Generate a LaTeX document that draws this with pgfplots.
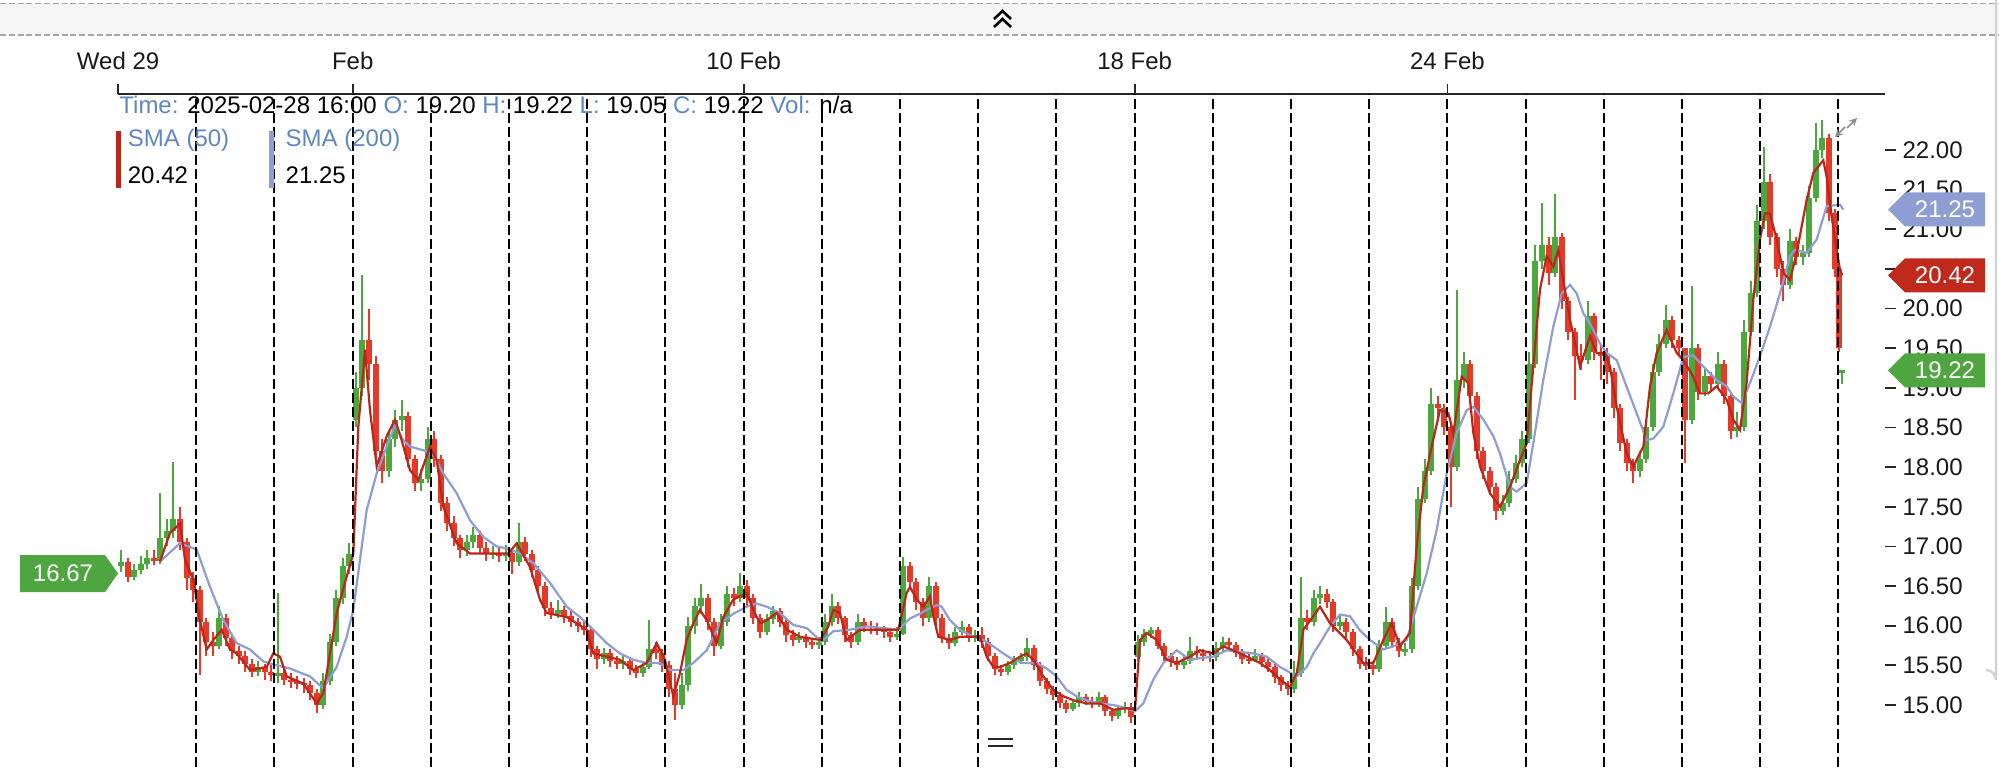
\documentclass[border=0pt]{standalone}
\usepackage{fontspec}
\setmainfont{Liberation Sans}
\usepackage{pgfplots}
\usepackage{pgfplotstable}
\pgfplotsset{compat=1.18}
\definecolor{cred}{HTML}{E5392A}
\definecolor{cgreen}{HTML}{4CA83C}
\definecolor{smared}{HTML}{BA2619}
\definecolor{smablue}{HTML}{8E9DD4}
\definecolor{lblue}{HTML}{5F87C0}
\definecolor{flaggreen}{HTML}{4FA540}
\definecolor{flagred}{HTML}{BF2A1C}
\definecolor{flagblue}{HTML}{8E9DD2}

\pgfplotstableread{
x o h l c
0.042 16.75 16.95 16.68 16.80
0.125 16.80 16.85 16.55 16.62
0.208 16.62 16.78 16.58 16.70
0.292 16.70 16.88 16.65 16.78
0.375 16.78 16.95 16.72 16.85
0.458 16.85 16.95 16.76 16.82
0.542 16.82 17.67 16.78 17.10
0.625 17.10 17.35 17.00 17.20
0.708 17.20 18.07 17.10 17.35
0.792 17.35 17.50 16.95 17.05
0.875 17.05 17.10 16.45 16.60
0.958 16.60 16.68 16.30 16.45
1.042 16.45 16.50 15.38 16.05
1.125 16.05 16.10 15.62 15.80
1.208 15.80 15.92 15.62 15.75
1.292 15.75 16.25 15.70 16.10
1.375 16.10 16.15 15.75 15.85
1.458 15.85 15.90 15.58 15.68
1.542 15.68 15.75 15.52 15.62
1.625 15.62 15.68 15.42 15.52
1.708 15.52 15.58 15.35 15.42
1.792 15.42 15.56 15.36 15.48
1.875 15.48 15.52 15.32 15.42
1.958 15.42 15.50 15.30 15.38
2.042 15.38 16.41 15.28 15.40
2.125 15.40 15.48 15.25 15.32
2.208 15.32 15.40 15.22 15.30
2.292 15.30 15.36 15.20 15.28
2.375 15.28 15.34 15.15 15.25
2.458 15.25 15.30 15.06 15.15
2.542 15.15 15.20 14.90 15.00
2.625 15.00 15.40 14.95 15.30
2.708 15.30 15.90 15.25 15.80
2.792 15.80 16.45 15.75 16.35
2.875 16.35 16.85 16.28 16.75
2.958 16.75 17.04 16.65 16.90
3.042 18.60 19.20 18.50 19.00
3.125 19.00 20.42 18.90 19.60
3.208 19.60 20.00 19.10 19.30
3.292 19.30 19.40 18.10 18.20
3.375 18.20 18.35 17.80 17.95
3.458 17.95 18.45 17.88 18.35
3.542 18.35 18.72 18.25 18.60
3.625 18.60 18.85 18.45 18.65
3.708 18.65 18.70 18.00 18.10
3.792 18.10 18.15 17.70 17.80
3.875 17.80 17.98 17.70 17.85
3.958 17.85 18.50 17.80 18.35
4.042 18.35 18.45 18.00 18.10
4.125 18.10 18.15 17.45 17.55
4.208 17.55 17.62 17.20 17.30
4.292 17.30 17.38 17.00 17.10
4.375 17.10 17.15 16.85 16.95
4.458 16.95 17.15 16.88 17.05
4.542 17.05 17.25 16.98 17.15
4.625 17.15 17.20 16.90 16.98
4.708 16.98 17.05 16.82 16.90
4.792 16.90 17.00 16.84 16.92
4.875 16.92 16.98 16.80 16.88
4.958 16.88 17.02 16.82 16.92
5.042 16.92 16.98 16.65 16.80
5.125 16.80 17.29 16.75 17.05
5.208 17.05 17.12 16.82 16.90
5.292 16.90 16.95 16.62 16.70
5.375 16.70 16.75 16.42 16.50
5.458 16.50 16.55 16.12 16.22
5.542 16.22 16.30 16.08 16.15
5.625 16.15 16.32 16.10 16.20
5.708 16.20 16.25 16.04 16.12
5.792 16.12 16.18 15.98 16.05
5.875 16.05 16.10 15.92 16.00
5.958 16.00 16.05 15.88 15.95
6.042 15.95 15.98 15.60 15.70
6.125 15.70 15.75 15.45 15.58
6.208 15.58 15.72 15.52 15.65
6.292 15.65 15.70 15.48 15.55
6.375 15.55 15.62 15.45 15.52
6.458 15.52 15.62 15.46 15.55
6.542 15.55 15.58 15.38 15.45
6.625 15.45 15.50 15.34 15.40
6.708 15.40 15.55 15.35 15.48
6.792 15.48 16.07 15.45 15.70
6.875 15.70 15.80 15.58 15.65
6.958 15.65 15.70 15.42 15.50
7.042 15.50 15.55 15.10 15.20
7.125 15.20 15.40 14.81 15.00
7.208 15.00 15.40 14.95 15.25
7.292 15.25 16.11 15.18 16.00
7.375 16.00 16.35 15.90 16.25
7.458 16.25 16.53 16.15 16.35
7.542 16.35 16.40 15.95 16.05
7.625 16.05 16.10 15.62 15.75
7.708 15.75 16.15 15.70 16.05
7.792 16.05 16.50 16.00 16.40
7.875 16.40 16.48 16.25 16.35
7.958 16.35 16.66 16.30 16.50
8.042 16.50 16.58 16.25 16.35
8.125 16.35 16.40 16.02 16.10
8.208 16.10 16.15 15.85 15.92
8.292 15.92 16.15 15.88 16.08
8.375 16.08 16.25 16.02 16.18
8.458 16.18 16.22 15.98 16.05
8.542 16.05 16.10 15.80 15.88
8.625 15.88 15.94 15.75 15.82
8.708 15.82 15.92 15.78 15.86
8.792 15.86 15.90 15.72 15.80
8.875 15.80 15.84 15.70 15.76
8.958 15.76 15.86 15.70 15.80
9.042 15.80 16.15 15.76 16.05
9.125 16.05 16.40 16.00 16.25
9.208 16.25 16.30 16.02 16.10
9.292 16.10 16.12 15.80 15.88
9.375 15.88 15.92 15.72 15.80
9.458 15.80 16.15 15.76 16.05
9.542 16.05 16.10 15.92 16.00
9.625 16.00 16.06 15.90 15.98
9.708 15.98 16.04 15.88 15.95
9.792 15.95 16.00 15.85 15.92
9.875 15.92 15.96 15.80 15.86
9.958 15.86 15.98 15.82 15.90
10.042 15.90 16.87 15.88 16.75
10.125 16.75 16.80 16.45 16.55
10.208 16.55 16.60 16.20 16.30
10.292 16.30 16.35 16.00 16.10
10.375 16.10 16.62 16.05 16.50
10.458 16.50 16.55 15.98 16.10
10.542 16.10 16.15 15.78 15.85
10.625 15.85 15.90 15.70 15.78
10.708 15.78 15.98 15.74 15.92
10.792 15.92 16.06 15.88 15.98
10.875 15.98 16.02 15.80 15.85
10.958 15.85 15.95 15.80 15.88
11.042 15.88 15.98 15.72 15.80
11.125 15.80 15.85 15.55 15.62
11.208 15.62 15.66 15.38 15.45
11.292 15.45 15.50 15.36 15.42
11.375 15.42 15.56 15.38 15.50
11.458 15.50 15.62 15.46 15.56
11.542 15.56 15.66 15.52 15.60
11.625 15.60 15.85 15.56 15.72
11.708 15.72 15.76 15.44 15.50
11.792 15.50 15.54 15.24 15.30
11.875 15.30 15.34 15.14 15.20
11.958 15.20 15.24 15.06 15.12
12.042 15.12 15.16 14.96 15.02
12.125 15.02 15.06 14.90 14.95
12.208 14.95 15.08 14.92 15.02
12.292 15.02 15.16 14.98 15.10
12.375 15.10 15.14 15.00 15.05
12.458 15.05 15.10 14.96 15.02
12.542 15.02 15.16 14.98 15.10
12.625 15.10 15.12 14.86 14.92
12.708 14.92 14.96 14.80 14.86
12.792 14.86 15.00 14.82 14.95
12.875 14.95 15.04 14.90 14.98
12.958 14.98 15.02 14.77 14.85
13.042 15.60 15.88 15.55 15.80
13.125 15.80 15.96 15.74 15.90
13.208 15.90 15.99 15.84 15.95
13.292 15.95 15.98 15.70 15.75
13.375 15.75 15.78 15.56 15.62
13.458 15.62 15.66 15.48 15.55
13.542 15.55 15.60 15.44 15.50
13.625 15.50 15.62 15.46 15.55
13.708 15.55 15.86 15.52 15.68
13.792 15.68 15.74 15.58 15.65
13.875 15.65 15.70 15.56 15.62
13.958 15.62 15.68 15.54 15.60
14.042 15.60 15.80 15.56 15.72
14.125 15.72 15.86 15.68 15.80
14.208 15.80 15.84 15.70 15.76
14.292 15.76 15.80 15.60 15.66
14.375 15.66 15.70 15.52 15.58
14.458 15.58 15.66 15.52 15.57
14.542 15.57 15.70 15.54 15.62
14.625 15.62 15.66 15.48 15.54
14.708 15.54 15.58 15.42 15.48
14.792 15.48 15.52 15.28 15.35
14.875 15.35 15.38 15.18 15.25
14.958 15.25 15.30 15.12 15.20
15.042 15.20 15.55 15.15 15.40
15.125 15.40 16.62 15.35 16.10
15.208 16.10 16.20 15.95 16.05
15.292 16.05 16.45 16.00 16.35
15.375 16.35 16.50 16.28 16.40
15.458 16.40 16.46 16.22 16.30
15.542 16.30 16.34 15.92 16.00
15.625 16.00 16.12 15.95 16.05
15.708 16.05 16.10 15.85 15.92
15.792 15.92 15.96 15.62 15.70
15.875 15.70 15.74 15.45 15.52
15.958 15.52 15.60 15.44 15.50
16.042 15.50 15.56 15.38 15.45
16.125 15.45 15.82 15.42 15.75
16.208 15.75 16.24 15.70 16.05
16.292 16.05 16.10 15.72 15.80
16.375 15.80 15.84 15.60 15.68
16.458 15.68 15.78 15.62 15.70
16.542 15.70 16.60 15.66 16.50
16.625 16.50 17.75 16.45 17.60
16.708 17.60 18.10 17.55 17.95
16.792 17.95 19.00 17.90 18.80
16.875 18.80 18.90 18.62 18.75
16.958 18.75 18.80 18.40 18.50
17.042 18.50 18.55 17.50 18.00
17.125 18.00 20.24 17.95 19.10
17.208 19.10 19.45 19.00 19.30
17.292 19.30 19.35 18.80 18.90
17.375 18.90 18.95 18.10 18.20
17.458 18.20 18.25 17.85 17.95
17.542 17.95 18.00 17.65 17.75
17.625 17.75 17.80 17.33 17.45
17.708 17.45 17.65 17.40 17.55
17.792 17.55 17.95 17.50 17.85
17.875 17.85 18.15 17.80 18.05
17.958 18.05 18.45 18.00 18.35
18.042 18.35 19.45 18.30 19.30
18.125 19.30 20.80 19.25 20.60
18.208 20.60 21.33 20.50 20.80
18.292 20.80 20.90 20.30 20.45
18.375 20.45 21.45 20.40 20.90
18.458 20.90 20.95 20.00 20.10
18.542 20.10 20.15 19.60 19.70
18.625 19.70 19.75 18.85 19.40
18.708 19.40 19.55 19.22 19.35
18.792 19.35 20.10 19.30 19.90
18.875 19.90 19.95 19.35 19.45
18.958 19.45 19.55 19.10 19.40
19.042 19.40 19.50 19.05 19.20
19.125 19.20 19.25 18.62 18.75
19.208 18.75 18.80 18.20 18.30
19.292 18.30 18.35 17.95 18.05
19.375 18.05 18.10 17.80 17.95
19.458 17.95 18.20 17.88 18.10
19.542 18.10 18.60 18.05 18.50
19.625 18.50 19.30 18.45 19.20
19.708 19.20 19.68 19.15 19.55
19.792 19.55 20.05 19.50 19.85
19.875 19.85 19.90 19.50 19.60
19.958 19.60 19.65 19.40 19.50
20.042 19.50 19.50 18.05 18.60
20.125 18.60 20.28 18.55 19.50
20.208 19.50 19.55 18.85 18.95
20.292 18.95 19.25 18.90 19.15
20.375 19.15 19.20 18.95 19.05
20.458 19.05 19.45 19.00 19.30
20.542 19.30 19.35 18.80 18.90
20.625 18.90 18.95 18.35 18.45
20.708 18.45 18.70 18.38 18.50
20.792 18.50 19.85 18.45 19.70
20.875 19.70 20.35 19.65 20.20
20.958 20.20 21.30 20.15 21.10
21.042 21.10 22.04 21.00 21.60
21.125 21.60 21.70 20.80 20.90
21.208 20.90 20.95 20.40 20.50
21.292 20.50 20.60 20.10 20.30
21.375 20.30 21.00 20.25 20.85
21.458 20.85 20.90 20.55 20.65
21.542 20.65 20.80 20.55 20.70
21.625 20.70 21.55 20.65 21.40
21.708 21.40 22.34 21.35 22.00
21.792 22.00 22.38 21.90 22.15
21.875 22.15 22.20 21.10 21.20
21.958 21.20 21.25 20.40 20.50
22.010 20.50 20.55 19.45 19.50
22.045 19.20 19.22 19.05 19.22
}\candles

\begin{document}
\begin{tikzpicture}
\path[use as bounding box] (0pt,0pt) rectangle (999.5pt,383.5pt);
\begin{axis}[
  at={(59.05pt,0pt)}, anchor=south west,
  scale only axis, width=883.45pt, height=336.5pt,
  xmin=0, xmax=22.595, ymin=14.218, ymax=22.706,
  axis x line*=top, axis y line*=right,
  x axis line style={-, draw=black!85, line width=0.9pt},
  y axis line style={draw=none},
  xtick={0,3,8,13,17},
  xticklabels={Wed 29,Feb,10 Feb,18 Feb,24 Feb},
  ytick={15,15.5,16,16.5,17,17.5,18,18.5,19,19.5,20,20.5,21,21.5,22},
  tick align=outside,
  major tick length=5.25pt,
  xtick style={black!85, line width=0.9pt},
  ytick style={black!85, line width=0.9pt},
  ticklabel style={font=\fontsize{12}{14}\selectfont, text=black!90},
  xticklabel style={yshift=3.2pt},
  yticklabel style={/pgf/number format/.cd, fixed, fixed zerofill, precision=2, assume math mode=true},
  extra x ticks={1,2,3,4,5,6,7,8,9,10,11,12,13,14,15,16,17,18,19,20,21,22},
  extra x tick labels={},
  extra x tick style={major tick length=0pt, xmajorgrids=true},
  major grid style={black, line width=1pt, dash pattern=on 5pt off 2pt},
  axis on top,
  candle/.style={only marks, mark=*, mark size=0pt, mark options={draw=none, fill=none}, forget plot},
]
% red candles
\addplot[candle,
  restrict expr to domain={\thisrow{c}-\thisrow{o}}{-100:0},
  error bars/.cd, y dir=minus, y explicit, error mark=none,
  error bar style={line width=1pt, draw=cred}]
  table[x=x, y=h, y error expr=\thisrow{h}-\thisrow{l}] {\candles};
\addplot[candle,
  restrict expr to domain={\thisrow{c}-\thisrow{o}}{-100:0},
  error bars/.cd, y dir=minus, y explicit, error mark=none,
  error bar style={line width=3pt, draw=cred}]
  table[x=x, y expr={max(\thisrow{o},\thisrow{c})}, y error expr={max(abs(\thisrow{o}-\thisrow{c}),0.03)}] {\candles};
% green candles
\addplot[candle,
  restrict expr to domain={\thisrow{c}-\thisrow{o}}{0.0001:100},
  error bars/.cd, y dir=minus, y explicit, error mark=none,
  error bar style={line width=1pt, draw=cgreen}]
  table[x=x, y=h, y error expr=\thisrow{h}-\thisrow{l}] {\candles};
\addplot[candle,
  restrict expr to domain={\thisrow{c}-\thisrow{o}}{0.0001:100},
  error bars/.cd, y dir=minus, y explicit, error mark=none,
  error bar style={line width=3pt, draw=cgreen}]
  table[x=x, y expr={max(\thisrow{o},\thisrow{c})}, y error expr={max(abs(\thisrow{o}-\thisrow{c}),0.03)}] {\candles};
% SMA 200
\addplot[smablue, line width=1.1pt, forget plot] coordinates {
(0.536,16.81)(0.792,17.04)(1.005,16.96)(1.175,16.49)(1.346,16.07)(1.516,15.78)(1.687,15.70)(1.857,15.55)(1.985,15.51)(2.198,15.46)(2.454,15.36)(2.624,15.21)(2.795,15.48)(2.923,15.86)(3.008,16.20)(3.093,16.83)(3.179,17.46)(3.307,17.92)(3.435,18.26)(3.541,18.53)(3.647,18.34)(3.733,18.26)(3.946,18.20)(4.052,18.13)(4.159,17.92)(4.330,17.67)(4.500,17.33)(4.670,17.12)(4.841,17.00)(4.990,16.97)(5.139,16.91)(5.310,16.79)(5.523,16.54)(5.737,16.24)(5.907,16.11)(6.077,15.95)(6.248,15.78)(6.418,15.65)(6.588,15.57)(6.759,15.53)(6.930,15.53)(7.058,15.44)(7.228,15.44)(7.355,15.53)(7.527,15.69)(7.697,16.03)(7.867,16.15)(8.038,16.24)(8.166,16.28)(8.294,16.24)(8.464,16.16)(8.634,16.01)(8.806,15.97)(8.997,15.80)(9.146,15.93)(9.359,15.95)(9.573,15.99)(9.785,15.97)(9.977,15.95)(10.126,16.09)(10.254,16.15)(10.340,16.20)(10.468,16.26)(10.532,16.24)(10.638,16.07)(10.766,15.95)(10.936,15.86)(11.064,15.82)(11.192,15.74)(11.320,15.65)(11.448,15.57)(11.576,15.53)(11.747,15.53)(11.875,15.46)(12.003,15.36)(12.130,15.19)(12.258,15.11)(12.386,15.06)(12.556,15.02)(12.727,15.00)(12.898,14.96)(13.004,14.92)(13.110,15.02)(13.238,15.32)(13.366,15.53)(13.537,15.69)(13.707,15.57)(13.835,15.59)(14.005,15.61)(14.176,15.69)(14.347,15.67)(14.517,15.65)(14.688,15.61)(14.858,15.48)(15.072,15.36)(15.200,15.48)(15.284,15.65)(15.370,15.78)(15.498,15.99)(15.625,16.14)(15.753,16.12)(15.881,15.94)(16.009,15.82)(16.179,15.70)(16.307,15.74)(16.478,15.82)(16.606,16.24)(16.734,16.66)(16.862,17.21)(16.990,17.92)(17.118,18.43)(17.246,18.72)(17.331,18.76)(17.459,18.60)(17.587,18.39)(17.672,18.17)(17.799,17.75)(17.885,17.69)(18.013,17.80)(18.097,18.30)(18.225,19.10)(18.353,19.77)(18.460,20.19)(18.567,20.30)(18.652,20.19)(18.737,19.94)(18.823,19.81)(18.950,19.56)(19.036,19.44)(19.164,19.35)(19.292,19.01)(19.419,18.68)(19.547,18.34)(19.632,18.36)(19.760,18.51)(19.888,18.93)(20.016,19.39)(20.143,19.41)(20.271,19.27)(20.442,19.10)(20.570,19.02)(20.655,18.89)(20.762,18.81)(20.868,19.06)(20.996,19.40)(21.124,19.77)(21.252,20.19)(21.380,20.66)(21.444,20.74)(21.593,20.70)(21.721,20.87)(21.849,21.29)(22.019,21.31)(22.062,21.25)
};
% SMA 50
\addplot[smared, line width=1.1pt, forget plot] coordinates {
(0.536,16.81)(0.664,17.17)(0.792,17.29)(0.856,16.83)(0.962,16.58)(1.047,16.07)(1.133,15.70)(1.218,15.82)(1.325,15.95)(1.431,15.70)(1.517,15.65)(1.687,15.44)(1.900,15.48)(1.985,15.65)(2.070,15.61)(2.156,15.36)(2.369,15.27)(2.539,15.02)(2.624,15.15)(2.710,15.65)(2.795,16.16)(2.923,16.62)(3.008,16.91)(3.072,18.51)(3.157,19.48)(3.221,18.72)(3.307,18.01)(3.435,18.39)(3.541,18.60)(3.626,18.34)(3.733,17.96)(3.840,17.84)(3.989,18.26)(4.074,18.09)(4.159,17.50)(4.330,17.04)(4.500,16.91)(4.713,16.91)(4.990,16.91)(5.097,17.04)(5.267,16.74)(5.395,16.33)(5.480,16.16)(5.737,16.11)(5.992,15.95)(6.077,15.65)(6.248,15.61)(6.418,15.57)(6.588,15.44)(6.759,15.53)(6.887,15.78)(6.993,15.57)(7.100,15.11)(7.185,15.40)(7.270,15.82)(7.355,16.03)(7.440,16.20)(7.527,16.07)(7.654,15.78)(7.739,16.11)(7.867,16.33)(8.038,16.41)(8.123,16.20)(8.209,16.03)(8.294,16.07)(8.422,16.16)(8.550,15.95)(8.720,15.86)(8.976,15.82)(9.082,15.99)(9.146,16.20)(9.231,16.16)(9.317,15.82)(9.487,15.95)(9.658,15.95)(9.977,15.95)(10.083,16.41)(10.127,16.49)(10.212,16.33)(10.297,16.24)(10.382,16.37)(10.425,16.12)(10.489,15.86)(10.638,15.82)(10.766,15.86)(10.936,15.86)(11.021,15.86)(11.107,15.61)(11.192,15.48)(11.277,15.48)(11.405,15.53)(11.533,15.61)(11.618,15.65)(11.704,15.57)(11.832,15.36)(11.960,15.19)(12.088,15.11)(12.216,15.06)(12.386,15.02)(12.556,15.02)(12.727,14.94)(12.898,14.96)(13.004,14.94)(13.068,15.82)(13.153,15.91)(13.281,15.82)(13.409,15.57)(13.537,15.53)(13.707,15.61)(13.835,15.69)(14.005,15.65)(14.133,15.74)(14.261,15.69)(14.432,15.61)(14.602,15.53)(14.730,15.44)(14.858,15.32)(14.986,15.23)(15.072,15.40)(15.157,15.95)(15.285,16.12)(15.370,16.24)(15.498,16.03)(15.711,15.82)(15.924,15.53)(16.052,15.53)(16.179,15.82)(16.286,16.03)(16.392,15.74)(16.520,15.91)(16.606,17.00)(16.691,17.75)(16.798,18.26)(16.904,18.72)(17.011,18.68)(17.075,18.43)(17.182,19.14)(17.267,19.06)(17.331,18.43)(17.416,18.01)(17.544,17.67)(17.672,17.50)(17.799,17.75)(17.927,18.09)(18.013,18.30)(18.097,19.27)(18.183,20.24)(18.268,20.66)(18.353,20.53)(18.417,20.74)(18.481,20.36)(18.567,19.86)(18.694,19.27)(18.823,19.65)(18.908,19.44)(19.014,19.44)(19.078,19.27)(19.164,18.76)(19.292,18.17)(19.377,18.01)(19.505,18.26)(19.590,19.02)(19.675,19.44)(19.803,19.73)(19.931,19.44)(20.016,19.35)(20.143,19.14)(20.228,18.93)(20.335,18.93)(20.442,19.02)(20.570,18.85)(20.655,18.60)(20.740,18.47)(20.825,19.06)(20.911,20.11)(20.996,20.87)(21.060,21.20)(21.124,21.20)(21.209,20.87)(21.295,20.45)(21.380,20.36)(21.465,20.70)(21.593,21.37)(21.678,21.71)(21.806,21.87)(21.849,21.66)(21.913,21.16)(21.977,20.74)(22.019,20.49)(22.050,20.42)
};
\end{axis}
% overlay elements in pixel coordinates of the reference (origin top-left)
\begin{scope}[x=0.5pt, y=-0.5pt, shift={(0pt,383.5pt)}]
  % top strip
  \fill[black!4] (0,3.5) rectangle (1999,35);
  \draw[black!35, line width=0.7pt, dash pattern=on 3pt off 1.4pt] (0,3.5) -- (1999,3.5);
  \draw[black!35, line width=0.7pt, dash pattern=on 3pt off 1.4pt] (0,35) -- (1999,35);
  \draw[black, line width=1.3pt, line join=miter] (994,19) -- (1002.5,11) -- (1011,19);
  \draw[black, line width=1.3pt, line join=miter] (994,27) -- (1002.5,19) -- (1011,27);
  % right border
  \draw[black!18, line width=1.2pt] (1996,0) -- (1996,680) arc[start angle=0, end angle=-90, radius=10];
  % bottom handle
  \draw[black!85, line width=1pt] (988,739) -- (1013,739);
  \draw[black!85, line width=1pt] (988,746) -- (1013,746);
  % expand icon
  \draw[black!45, line width=0.8pt, ->, >=stealth] (1847,128) -- (1857,118);
  \draw[black!45, line width=0.8pt, ->, >=stealth] (1845,127) -- (1835,137);
  % info line
  \node[anchor=base west, inner sep=0pt, font=\fontsize{12}{14}\selectfont] at (119,114)
    {\textcolor{lblue}{Time:} 2025-02-28 16:00 \textcolor{lblue}{O:} 19.20 \textcolor{lblue}{H:} 19.22 \textcolor{lblue}{L:} 19.05 \textcolor{lblue}{C:} 19.22 \textcolor{lblue}{Vol:} n/a};
  % SMA legend
  \fill[smared] (115.5,131) rectangle (120.5,188);
  \fill[smablue] (268.5,131) rectangle (273.5,188);
  \node[anchor=base west, inner sep=0pt, font=\fontsize{12}{14}\selectfont, text=lblue] at (127.5,147) {SMA (50)};
  \node[anchor=base west, inner sep=0pt, font=\fontsize{12}{14}\selectfont] at (127.5,184) {20.42};
  \node[anchor=base west, inner sep=0pt, font=\fontsize{12}{14}\selectfont, text=lblue] at (285.3,147) {SMA (200)};
  \node[anchor=base west, inner sep=0pt, font=\fontsize{12}{14}\selectfont] at (285.3,184) {21.25};
  % left flag 16.67
  \fill[flaggreen] (20,555) -- (105,555) -- (118,573.5) -- (105,592) -- (20,592) -- cycle;
  \node[text=white, font=\fontsize{12}{14}\selectfont, inner sep=0pt] at (63,573.5) {16.67};
  % right flags
  \fill[flagblue] (1888,209.5) -- (1905,192.5) -- (1985,192.5) -- (1985,226.5) -- (1905,226.5) -- cycle;
  \node[text=white, font=\fontsize{12}{14}\selectfont, inner sep=0pt] at (1945,209.5) {21.25};
  \fill[flagred] (1888,275.3) -- (1905,258.3) -- (1985,258.3) -- (1985,292.3) -- (1905,292.3) -- cycle;
  \node[text=white, font=\fontsize{12}{14}\selectfont, inner sep=0pt] at (1945,275.3) {20.42};
  \fill[flaggreen] (1888,370.4) -- (1905,353.4) -- (1985,353.4) -- (1985,387.4) -- (1905,387.4) -- cycle;
  \node[text=white, font=\fontsize{12}{14}\selectfont, inner sep=0pt] at (1945,370.4) {19.22};
\end{scope}
\end{tikzpicture}
\end{document}
